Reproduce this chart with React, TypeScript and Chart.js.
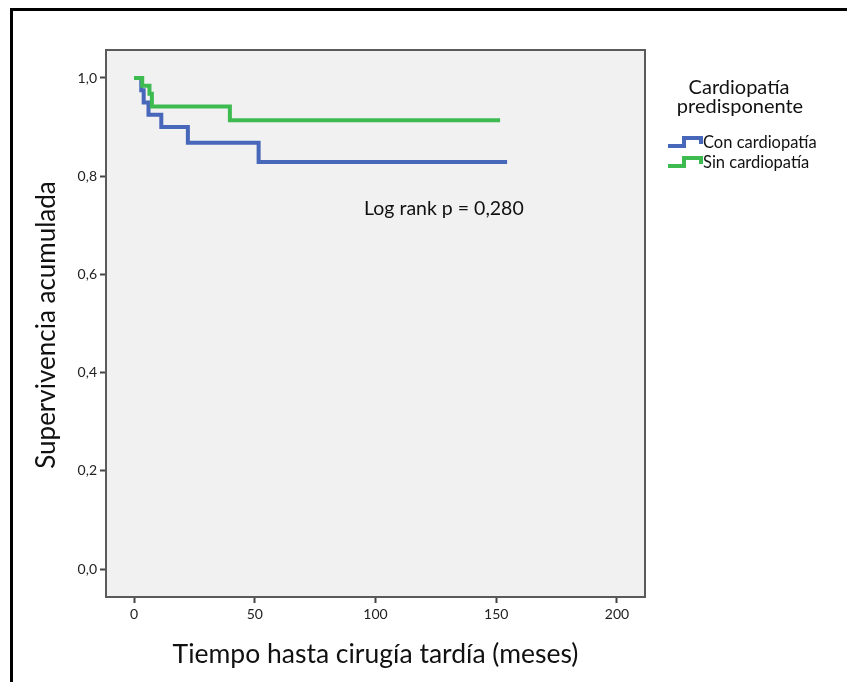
import React, { useEffect, useRef } from "react";
import { Chart, registerables } from "chart.js";

Chart.register(...registerables);

// Kaplan-Meier steps: time (months) and cumulative survival after each event
const timeCon = [0, 3, 4, 6, 11.3, 22.3, 51.6, 154.5];
const survCon = [1, 0.975, 0.95, 0.925, 0.9, 0.868, 0.829, 0.829];
const timeSin = [0, 3.4, 6.4, 7.4, 39.7, 151.6];
const survSin = [1, 0.984, 0.968, 0.942, 0.914, 0.914];

const xTicks = [0, 50, 100, 150, 200];
const yTicks = [0, 0.2, 0.4, 0.6, 0.8, 1.0];

const seriesNames = ["Con cardiopatía", "Sin cardiopatía"];
const legendTitle = ["Cardiopatía", "predisponente"];
const xTitle = "Tiempo hasta cirugía tardía (meses)";
const yTitle = "Supervivencia acumulada";
const note = "Log rank p = 0,280";

const BLUE = "#4767BA";
const GREEN = "#3DBB50";
const FONT = "Lato, 'Open Sans', sans-serif";

const decor = {
  id: "decor",
  beforeDraw(chart: any) {
    const { ctx, chartArea: a, width, height } = chart;
    ctx.save();
    ctx.fillStyle = "#ffffff";
    ctx.fillRect(0, 0, width, height);
    ctx.fillStyle = "#F1F1F1";
    ctx.fillRect(a.left, a.top, a.right - a.left, a.bottom - a.top);
    ctx.restore();
  },
  afterDraw(chart: any) {
    const { ctx, chartArea: a, width, height } = chart;
    ctx.save();
    // plot box
    ctx.strokeStyle = "#5A5A5A";
    ctx.lineWidth = 2;
    ctx.strokeRect(a.left, a.top, a.right - a.left, a.bottom - a.top);

    // outer frame (left and top edges)
    ctx.fillStyle = "#000000";
    ctx.fillRect(10, 8, width - 10, 3);
    ctx.fillRect(10, 8, 3, height - 8);

    // axis titles
    ctx.fillStyle = "#111111";
    ctx.textAlign = "center";
    ctx.textBaseline = "middle";
    ctx.font = `26.5px ${FONT}`;
    ctx.fillText(xTitle, (a.left + a.right) / 2, 654);
    ctx.save();
    ctx.translate(47, 325);
    ctx.rotate(-Math.PI / 2);
    ctx.font = `26px ${FONT}`;
    ctx.fillText(yTitle, 0, 0);
    ctx.restore();

    // log rank note
    ctx.font = `19.5px ${FONT}`;
    ctx.textAlign = "left";
    ctx.fillText(note, 364, 209);

    // legend
    ctx.textAlign = "center";
    ctx.font = `20px ${FONT}`;
    ctx.fillText(legendTitle[0], 739, 88);
    ctx.fillText(legendTitle[1], 740, 107);
    const colors = [BLUE, GREEN];
    const rows = [142, 162];
    ctx.font = `16.5px ${FONT}`;
    ctx.textAlign = "left";
    rows.forEach((yy, i) => {
      ctx.strokeStyle = colors[i];
      ctx.lineWidth = 4;
      ctx.lineJoin = "miter";
      ctx.beginPath();
      ctx.moveTo(668, yy + 4);
      ctx.lineTo(684, yy + 4);
      ctx.lineTo(684, yy - 4);
      ctx.lineTo(701, yy - 4);
      ctx.lineTo(701, yy + 2);
      ctx.stroke();
      ctx.fillStyle = "#111111";
      ctx.fillText(seriesNames[i], 703, yy + 1);
    });
    ctx.restore();
  },
};

export default function App() {
  const ref = useRef<HTMLCanvasElement>(null);

  useEffect(() => {
    if (!ref.current) return;
    const tickFont = { family: FONT, size: 14 };
    const chart = new Chart(ref.current, {
      type: "line",
      data: {
        datasets: [
          {
            label: seriesNames[1],
            data: timeSin.map((t, i) => ({ x: t, y: survSin[i] })),
            borderColor: GREEN,
            borderWidth: 4,
            pointRadius: 0,
            stepped: "before",
            fill: false,
            order: 0,
          },
          {
            label: seriesNames[0],
            data: timeCon.map((t, i) => ({ x: t, y: survCon[i] })),
            borderColor: BLUE,
            borderWidth: 4,
            pointRadius: 0,
            stepped: "before",
            fill: false,
            order: 1,
          },
        ],
      },
      options: {
        responsive: false,
        animation: false,
        devicePixelRatio: 1,
        layout: { padding: { top: 50, right: 202, bottom: 0, left: 0 } },
        plugins: { legend: { display: false }, tooltip: { enabled: false } },
        scales: {
          x: {
            type: "linear",
            min: -11.6,
            max: 211.6,
            afterBuildTicks: (s: any) => {
              s.ticks = xTicks.map((v) => ({ value: v }));
            },
            afterFit: (s: any) => {
              s.height = 85;
            },
            grid: {
              display: true,
              drawOnChartArea: false,
              drawTicks: true,
              tickLength: 6,
              tickColor: "#444444",
              tickWidth: 2,
            },
            border: { display: false },
            ticks: {
              font: tickFont,
              color: "#222222",
              padding: 3,
              maxRotation: 0,
              autoSkip: false,
              callback: (v: any) => String(v),
            },
          },
          y: {
            type: "linear",
            min: -0.057,
            max: 1.057,
            afterBuildTicks: (s: any) => {
              s.ticks = yTicks.map((v) => ({ value: v }));
            },
            afterFit: (s: any) => {
              s.width = 106;
            },
            grid: {
              display: true,
              drawOnChartArea: false,
              drawTicks: true,
              tickLength: 6,
              tickColor: "#444444",
              tickWidth: 2,
            },
            border: { display: false },
            ticks: {
              font: tickFont,
              color: "#222222",
              padding: 3,
              autoSkip: false,
              callback: (v: any) => Number(v).toFixed(1).replace(".", ","),
            },
          },
        },
      },
      plugins: [decor],
    });
    return () => chart.destroy();
  }, []);

  return (
    <div style={{ position: "absolute", left: 0, top: 0, width: 847, height: 682 }}>
      <canvas ref={ref} width={847} height={682} style={{ display: "block" }} />
    </div>
  );
}
